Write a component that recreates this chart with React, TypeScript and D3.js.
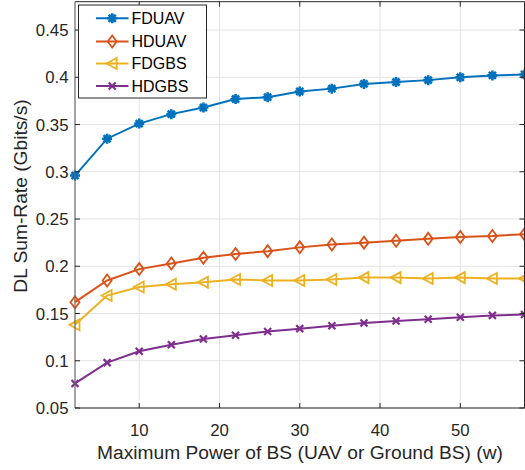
import React from "react";
import * as d3 from "d3";

const powers = [2, 6, 10, 14, 18, 22, 26, 30, 34, 38, 42, 46, 50, 54, 58];
const fduav = [0.296, 0.335, 0.351, 0.361, 0.368, 0.377, 0.379, 0.385, 0.388, 0.393, 0.395, 0.397, 0.400, 0.402, 0.403];
const hduav = [0.162, 0.185, 0.197, 0.203, 0.209, 0.213, 0.216, 0.220, 0.223, 0.225, 0.227, 0.229, 0.231, 0.232, 0.234];
const fdgbs = [0.138, 0.169, 0.178, 0.181, 0.183, 0.186, 0.185, 0.185, 0.186, 0.188, 0.188, 0.187, 0.188, 0.187, 0.187];
const hdgbs = [0.076, 0.098, 0.110, 0.117, 0.123, 0.127, 0.131, 0.134, 0.137, 0.140, 0.142, 0.144, 0.146, 0.148, 0.149];
const seriesNames = ["FDUAV", "HDUAV", "FDGBS", "HDGBS"];
const seriesColors = ["#0072BD", "#D95319", "#EDB120", "#7E2F8E"];
const seriesMarkers = ["star", "diamond", "tri", "x"];
const xTicks = [10, 20, 30, 40, 50];
const yTicks = [0.05, 0.1, 0.15, 0.2, 0.25, 0.3, 0.35, 0.4, 0.45];
const xLabel = "Maximum Power of BS (UAV or Ground BS) (w)";
const yLabel = "DL Sum-Rate (Gbits/s)";

const FONT = "'Liberation Sans', Arial, Helvetica, sans-serif";

function Marker({ type, x, y, color }: { type: string; x: number; y: number; color: string }) {
  const sw = 1.8;
  if (type === "star") {
    const r = 5;
    const d = [0, 45, 90, 135].map((a) => {
      const rad = (a * Math.PI) / 180;
      const dx = r * Math.cos(rad), dy = r * Math.sin(rad);
      return `M${x - dx},${y - dy}L${x + dx},${y + dy}`;
    }).join("");
    return <path d={d} stroke={color} strokeWidth={2.6} fill="none" />;
  }
  if (type === "diamond") {
    return <path d={`M${x},${y - 6}L${x + 4.5},${y}L${x},${y + 6}L${x - 4.5},${y}Z`} stroke={color} strokeWidth={sw} fill="none" />;
  }
  if (type === "tri") {
    return <path d={`M${x - 5.5},${y}L${x + 4.5},${y - 5.5}L${x + 4.5},${y + 5.5}Z`} stroke={color} strokeWidth={sw} fill="none" />;
  }
  const r = 3.5;
  return <path d={`M${x - r},${y - r}L${x + r},${y + r}M${x - r},${y + r}L${x + r},${y - r}`} stroke={color} strokeWidth={2.2} fill="none" />;
}

export default function App() {
  const W = 525, H = 470;
  const left = 75, right = 524.5, top = 1.7, bottom = 408;
  const x = d3.scaleLinear().domain([2, 58]).range([left, right]);
  const y = d3.scaleLinear().domain([0.05, 0.48]).range([bottom, top]);
  const data = [fduav, hduav, fdgbs, hdgbs];
  const line = d3.line<number>().x((_, i) => x(powers[i])).y((d) => y(d));
  const axisColor = "#262626";

  return (
    <svg width={W} height={H} style={{ position: "absolute", left: 0, top: 0, background: "#fff" }} fontFamily={FONT}>
      <rect x={0} y={0} width={W} height={H} fill="#fff" />
      {xTicks.map((t) => (
        <line key={"gx" + t} x1={x(t)} x2={x(t)} y1={top} y2={bottom} stroke="#e3e3e3" strokeWidth={1} />
      ))}
      {yTicks.map((t) => (
        <line key={"gy" + t} x1={left} x2={right} y1={y(t)} y2={y(t)} stroke="#e3e3e3" strokeWidth={1} />
      ))}
      {data.map((s, si) => (
        <g key={si}>
          <path d={line(s) || ""} fill="none" stroke={seriesColors[si]} strokeWidth={2} />
          {s.map((v, i) => (
            <Marker key={i} type={seriesMarkers[si]} x={x(powers[i])} y={y(v)} color={seriesColors[si]} />
          ))}
        </g>
      ))}
      <line x1={left} x2={right} y1={top} y2={top} stroke={axisColor} strokeWidth={1} />
      <line x1={right} x2={right} y1={top} y2={bottom} stroke={axisColor} strokeWidth={1} />
      <line x1={left} x2={right} y1={bottom} y2={bottom} stroke={axisColor} strokeWidth={1} />
      <line x1={left} x2={left} y1={top} y2={bottom} stroke="#666" strokeWidth={1.2} />
      {xTicks.map((t) => (
        <g key={"tx" + t}>
          <line x1={x(t)} x2={x(t)} y1={bottom} y2={bottom - 5} stroke={axisColor} />
          <line x1={x(t)} x2={x(t)} y1={top} y2={top + 5} stroke={axisColor} />
          <text x={x(t)} y={436} textAnchor="middle" fontSize={16.8} fill={axisColor}>{t}</text>
        </g>
      ))}
      {yTicks.map((t) => (
        <g key={"ty" + t}>
          <line x1={left} x2={left + 5} y1={y(t)} y2={y(t)} stroke={axisColor} />
          <line x1={right} x2={right - 5} y1={y(t)} y2={y(t)} stroke={axisColor} />
          <text x={68.5} y={y(t) + 6} textAnchor="end" fontSize={16.8} fill={axisColor}>{String(t)}</text>
        </g>
      ))}
      <text x={300} y={459} textAnchor="middle" fontSize={19.2} fill={axisColor}>{xLabel}</text>
      <text transform={`translate(26.5,${196}) rotate(-90)`} textAnchor="middle" fontSize={19.2} fill={axisColor}>{yLabel}</text>
      <rect x={78.5} y={5} width={128} height={93} fill="#fff" stroke={axisColor} strokeWidth={1} />
      {seriesNames.map((n, i) => {
        const ly = [18.3, 41.5, 63.5, 86][i];
        return (
          <g key={n}>
            <line x1={96} x2={128.5} y1={ly} y2={ly} stroke={seriesColors[i]} strokeWidth={2} />
            <Marker type={seriesMarkers[i]} x={112.2} y={ly} color={seriesColors[i]} />
            <text x={131.5} y={ly + 5.8} fontSize={16} fill="#000">{n}</text>
          </g>
        );
      })}
    </svg>
  );
}
